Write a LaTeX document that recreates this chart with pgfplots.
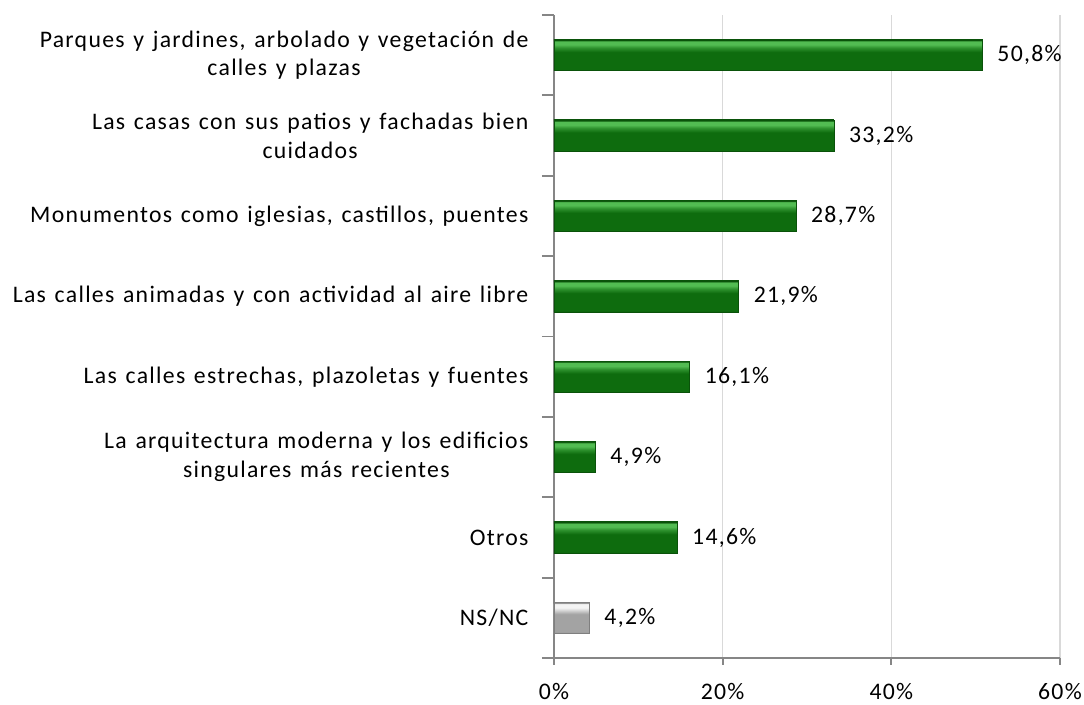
\documentclass[border=0pt]{standalone}
\usepackage{pgfplots}
\pgfplotsset{compat=1.18}
\usepackage{fontspec}
\setmainfont{Carlito}[LetterSpace=5.5,WordSpace={1.3,1.3,1.3}]
\definecolor{axgray}{HTML}{868686}
\definecolor{gridgray}{HTML}{D9D9D9}
\definecolor{gEdge}{HTML}{0A520A}
\definecolor{gMain}{HTML}{0E6C0E}
\definecolor{gMid}{HTML}{2E922E}
\definecolor{gLight}{HTML}{52BC52}
\definecolor{sEdge}{HTML}{7F7F7F}
\definecolor{sMain}{HTML}{A3A3A3}
\definecolor{sLight}{HTML}{F4F4F4}
\pgfdeclareverticalshading{greenbar}{100bp}{color(0bp)=(gEdge); color(25bp)=(gEdge); color(27bp)=(gMain); color(55bp)=(gMain); color(62bp)=(gMid); color(67bp)=(gLight); color(72bp)=(gLight); color(74bp)=(gEdge); color(100bp)=(gEdge)}
\pgfdeclareverticalshading{graybar}{100bp}{color(0bp)=(sEdge); color(25bp)=(sEdge); color(27bp)=(sMain); color(56bp)=(sMain); color(66bp)=(sLight); color(72bp)=(sLight); color(74bp)=(sEdge); color(100bp)=(sEdge)}
\pgfplotsset{
  gbar/.style={draw=gEdge, line width=0.6pt, shading=greenbar},
  sbar/.style={draw=sEdge, line width=0.6pt, shading=graybar},
}
\begin{document}
\begin{tikzpicture}
\begin{axis}[
  name=ax,
  scale only axis,
  width=379.5pt, height=482.25pt,
  xbar, bar width=23.5pt, bar shift=0pt,
  xmin=0, xmax=60,
  ymin=-0.5, ymax=7.5,
  y dir=reverse,
  axis x line*=bottom,
  axis y line*=left,
  axis line style={draw=axgray, line width=1.6pt},
  xtick={0,20,40,60},
  xticklabels={0\%,20\%,40\%,60\%},
  xmajorgrids,
  major grid style={draw=gridgray, line width=0.9pt},
  tick align=outside,
  major tick length=5pt,
  minor tick length=9pt,
  tick style={draw=axgray, line width=1.4pt},
  major y tick style={draw=none},
  ytick={0,...,7},
  minor ytick={-0.5,0.5,...,7.5},
  yticklabels={
    {Parques y jardines, arbolado y vegetación de\\calles y plazas},
    {Las casas con sus patios y fachadas bien\\cuidados},
    {Monumentos como iglesias, castillos, puentes},
    {Las calles animadas y con actividad al aire libre},
    {Las calles estrechas, plazoletas y fuentes},
    {La arquitectura moderna y los edificios\\singulares más recientes},
    {Otros},
    {NS/NC}},
  tick label style={font=\fontsize{17.8}{21.5}\selectfont, text=black},
  yticklabel style={align=center, inner sep=0pt, xshift=-14pt},
  xticklabel style={inner sep=0pt, yshift=-13.5pt},
  point meta=x,
  nodes near coords={\pgfmathprintnumber[fixed,fixed zerofill,precision=1,use comma,assume math mode=true]{\pgfplotspointmeta}\%},
  every node near coord/.append style={font=\fontsize{17.8}{21.5}\selectfont, text=black, inner sep=0pt, xshift=11pt},
]
\addplot[gbar] coordinates {(50.8,0)};
\addplot[gbar] coordinates {(33.2,1)};
\addplot[gbar] coordinates {(28.7,2)};
\addplot[gbar] coordinates {(21.9,3)};
\addplot[gbar] coordinates {(16.1,4)};
\addplot[gbar] coordinates {(4.9,5)};
\addplot[gbar] coordinates {(14.6,6)};
\addplot[sbar] coordinates {(4.2,7)};
\end{axis}
\path (ax.south west) ++(-415.5pt,-34.5pt) rectangle ++(813pt,528pt);
\end{tikzpicture}
\end{document}
